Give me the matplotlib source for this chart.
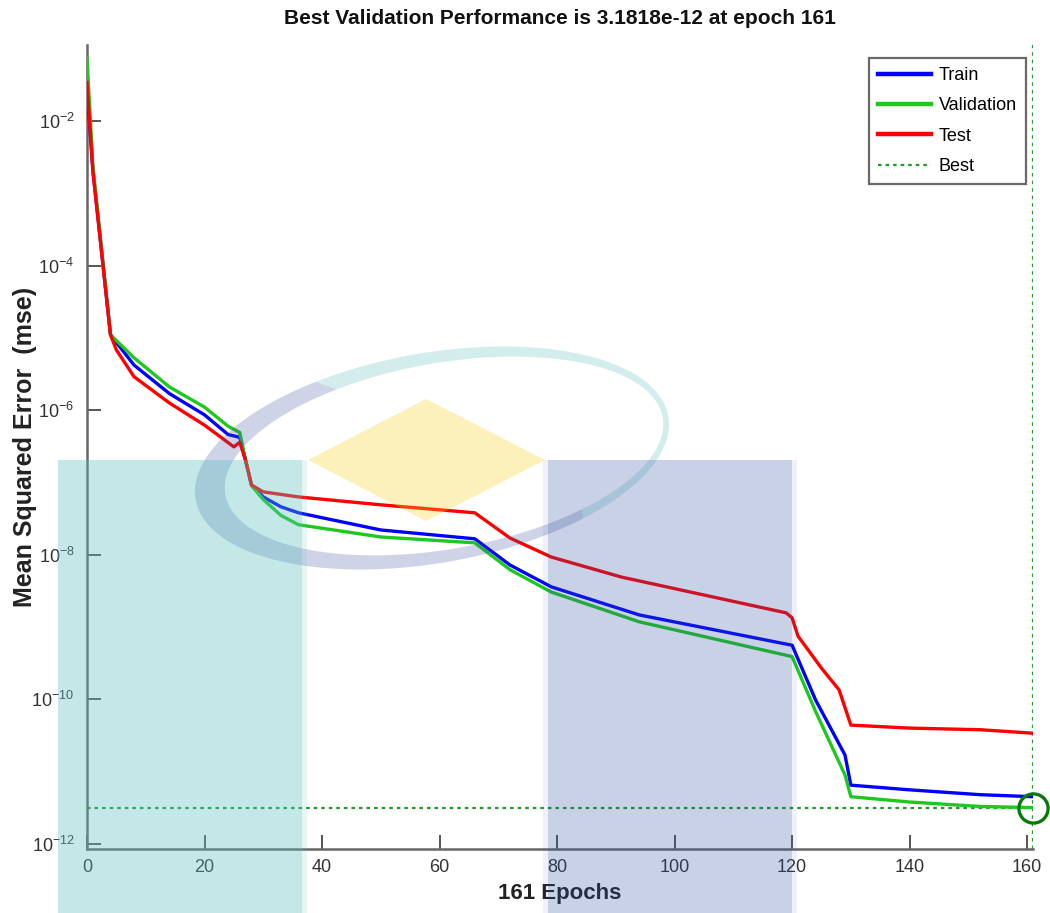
import numpy as np
import matplotlib
matplotlib.use('Agg')
import matplotlib.pyplot as plt
from matplotlib.patches import Polygon, Rectangle
from matplotlib.ticker import FixedLocator, FuncFormatter

plt.rcParams['font.family'] = ['Liberation Sans', 'DejaVu Sans']
plt.rcParams['mathtext.default'] = 'regular'
plt.rcParams['axes.unicode_minus'] = False

# values
epochs_train = [0, 1, 4, 8, 14, 20, 24, 26, 27, 28, 30, 33, 36, 50, 66, 72, 79, 94, 120, 124, 129, 130, 140, 152, 161]
train_mse = [3.0e-2, 2.1e-3, 1.1e-5, 4.2e-6, 1.7e-6, 8.6e-7, 4.6e-7, 4.2e-7, 2.0e-7, 9.2e-8, 6.3e-8, 4.6e-8, 3.8e-8,
             2.2e-8, 1.66e-8, 7.2e-9, 3.6e-9, 1.47e-9, 5.6e-10, 9.8e-11, 1.7e-11, 6.5e-12, 5.6e-12, 4.8e-12, 4.5e-12]

epochs_val = [0, 1, 4, 8, 14, 20, 24, 26, 27, 28, 30, 33, 36, 50, 66, 72, 79, 94, 120, 124, 129, 130, 140, 152, 161]
val_mse = [7.4e-2, 2.4e-3, 1.1e-5, 5.3e-6, 2.1e-6, 1.1e-6, 6.0e-7, 4.9e-7, 2.0e-7, 9.0e-8, 5.8e-8, 3.5e-8, 2.6e-8,
           1.76e-8, 1.46e-8, 6.2e-9, 3.05e-9, 1.18e-9, 3.9e-10, 6.8e-11, 9.0e-12, 4.5e-12, 3.8e-12, 3.3e-12, 3.1818e-12]

epochs_test = [0, 1, 4, 5, 8, 14, 20, 25, 26, 27, 28, 30, 36, 50, 66, 72, 79, 91, 119, 120, 121, 125, 128, 130, 140, 152, 161]
test_mse = [3.4e-2, 2.0e-3, 1.1e-5, 6.8e-6, 2.9e-6, 1.26e-6, 6.2e-7, 3.1e-7, 3.6e-7, 2.0e-7, 9.2e-8, 7.4e-8, 6.3e-8,
            4.9e-8, 3.8e-8, 1.7e-8, 9.3e-9, 4.9e-9, 1.57e-9, 1.34e-9, 7.5e-10, 2.7e-10, 1.35e-10, 4.4e-11, 4.0e-11,
            3.8e-11, 3.4e-11]

best_epoch = 161
best_perf = 3.1818e-12
xticks = [0, 20, 40, 60, 80, 100, 120, 140, 160]
yticks = [1e-12, 1e-10, 1e-8, 1e-6, 1e-4, 1e-2]

W, H = 1050, 913
fig = plt.figure(figsize=(W / 100, H / 100), dpi=100)
ax = fig.add_axes([87 / W, 64 / H, 946 / W, 804 / H])

ax.semilogy(epochs_train, train_mse, color='#0000ff', lw=2.4, label='Train', zorder=3)
ax.semilogy(epochs_val, val_mse, color='#1ec81e', lw=2.4, label='Validation', zorder=3)
ax.semilogy(epochs_test, test_mse, color='#ff0000', lw=2.4, label='Test', zorder=3)
ax.axhline(best_perf, color='#22992a', lw=1.6, ls=(0, (1.6, 1.8)), label='Best', zorder=2)
ax.axvline(best_epoch, color='#22992a', lw=1.6, ls=(0, (1.6, 1.8)), zorder=2)
ax.plot([best_epoch], [best_perf], 'o', ms=21, mfc='none', mec='#0b780b', mew=2.4, clip_on=False, zorder=4)

ax.set_xlim(0, 161)
ax.set_ylim(10 ** -12.07, 10 ** -0.95)
ax.xaxis.set_major_locator(FixedLocator(xticks))
ax.yaxis.set_major_locator(FixedLocator(yticks))
ax.yaxis.set_minor_locator(FixedLocator([]))
ax.yaxis.set_major_formatter(FuncFormatter(lambda v, p: r'$10^{%d}$' % round(np.log10(v))))
ax.tick_params(direction='in', length=10, width=1.4, color='#555555', labelsize=13, labelcolor='#333333', pad=7)
ax.tick_params(axis='y', pad=9)
for s in ['top', 'right']:
    ax.spines[s].set_visible(False)
for s in ['left', 'bottom']:
    ax.spines[s].set_color('#666666')
    ax.spines[s].set_linewidth(1.8)

ax.set_xlabel('161 Epochs', fontsize=16, fontweight='bold', color='#222222')
ax.xaxis.set_label_coords(0.5, -0.042)
ax.set_ylabel('Mean Squared Error  (mse)', fontsize=18, fontweight='bold', color='#222222')
ax.yaxis.set_label_coords(-0.053, 0.5)
fig.text(560 / W, 1 - 18 / H, 'Best Validation Performance is 3.1818e-12 at epoch 161',
         ha='center', va='center', fontsize=15, fontweight='bold', color='#111111')

leg = ax.legend(loc='upper right', bbox_to_anchor=(1026 / W, 1 - 58 / H), bbox_transform=fig.transFigure,
                fontsize=13, frameon=True, fancybox=False, handlelength=2.9, handletextpad=0.45,
                labelspacing=0.74, borderpad=0.5, borderaxespad=0)
leg.get_frame().set_edgecolor('#444444')
leg.get_frame().set_linewidth(1.6)
for h in leg.get_lines()[:3]:
    h.set_linewidth(3.2)

# watermark overlay (pixel coordinates)
ov = fig.add_axes([0, 0, 1, 1], zorder=5)
ov.set_xlim(0, W)
ov.set_ylim(H, 0)
ov.axis('off')
ov.patch.set_alpha(0)


def crescent(cx, cy, a, b, ang, t0, t1, dx, dy, da, db):
    t = np.radians(np.linspace(t0, t1, 200))
    c, s = np.cos(np.radians(ang)), np.sin(np.radians(ang))
    ox = cx + a * np.cos(t) * c - b * np.sin(t) * s
    oy = cy + a * np.cos(t) * s + b * np.sin(t) * c
    ix = cx + dx + (a - da) * np.cos(t) * c - (b - db) * np.sin(t) * s
    iy = cy + dy + (a - da) * np.cos(t) * s + (b - db) * np.sin(t) * c
    return np.column_stack([np.r_[ox, ix[::-1]], np.r_[oy, iy[::-1]]])


ov.add_patch(Polygon(crescent(432, 458, 240, 105, -10, 245, 415, 12, -2, 18, 12),
                     closed=True, fc='#5ebfbf', ec='none', alpha=0.27))
ov.add_patch(Polygon(crescent(432, 458, 240, 105, -10, 55, 245, 12, -2, 18, 12),
                     closed=True, fc='#4050a0', ec='none', alpha=0.25))
ov.add_patch(Polygon([[308, 460], [426, 399], [545, 460], [426, 521]], closed=True,
                     fc='#f8d020', ec='none', alpha=0.3))
ov.add_patch(Rectangle((58, 460), 244, H - 460, fc='#5ebfbf', ec='none', alpha=0.36))
ov.add_patch(Rectangle((302, 460), 5, H - 460, fc='#5ebfbf', ec='none', alpha=0.15))
ov.add_patch(Rectangle((548, 460), 244, H - 460, fc='#3050a0', ec='none', alpha=0.26))
ov.add_patch(Rectangle((543, 460), 5, H - 460, fc='#3050a0', ec='none', alpha=0.08))
ov.add_patch(Rectangle((792, 460), 5, H - 460, fc='#3050a0', ec='none', alpha=0.08))

fig.savefig('out.png', dpi=100)
